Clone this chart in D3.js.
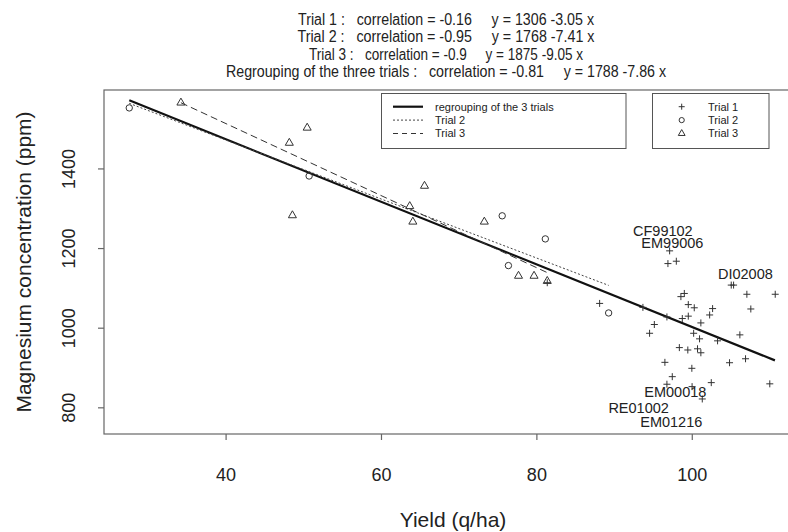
<!DOCTYPE html>
<html>
<head>
<meta charset="utf-8">
<script src="https://cdn.jsdelivr.net/npm/d3@7"></script>
<style>
  body { margin: 0; background: #fff; }
  text { font-family: "Liberation Sans", Arial, sans-serif; }
</style>
</head>
<body>
<div id="chart"></div>
<script>
// Trial 1 (+)
const trial1 = [
    [97.15, 1193], [96.93, 1161], [98.01, 1167], [105.08, 1107], [105.38, 1107],
    [107.09, 1084], [110.74, 1084], [99.04, 1086], [98.6, 1078], [99.55, 1058],
    [100.32, 1050], [102.68, 1048], [107.6, 1047], [102.3, 1032], [99.55, 1029],
    [98.78, 1023], [88.14, 1061], [93.71, 1051], [96.8, 1027], [95.18, 1008],
    [94.57, 986], [101.17, 1012], [100.24, 986], [101.0, 972], [103.32, 967],
    [106.19, 982], [98.4, 950], [99.49, 944], [100.74, 947], [101.17, 937],
    [96.54, 913], [100.01, 898], [104.86, 912], [106.92, 922], [97.49, 877],
    [102.51, 862], [110.04, 859], [101.35, 821], [96.8, 858], [100.04, 852],
    [81.4, 1113]
];
// Trial 2 (o)
const trial2 = [
    [27.6, 1552], [50.75, 1381], [75.6, 1281], [76.4, 1156], [81.15, 1223], [89.3, 1037]
];
// Trial 3 (triangles)
const trial3 = [
    [34.25, 1565], [50.5, 1502], [48.2, 1464], [48.6, 1282], [65.6, 1356],
    [63.7, 1305], [64.1, 1266], [73.3, 1266], [77.7, 1130], [79.7, 1130], [81.4, 1117]
];
// regression lines: intercept, slope, x range
const fits = [
    { name: "regrouping of the 3 trials", a: 1788, b: -7.86, from: 27.6, to: 110.7 },
    { name: "Trial 2", a: 1768, b: -7.41, from: 27.6, to: 89.3 },
    { name: "Trial 3", a: 1875, b: -9.05, from: 34.25, to: 81.4 }
];
// labelled samples
const labels = [
    { text: "CF99102", x: 96.28, y: 1243 },
    { text: "EM99006", x: 97.5, y: 1213 },
    { text: "DI02008", x: 106.9, y: 1134 },
    { text: "EM00018", x: 97.88, y: 839 },
    { text: "RE01002", x: 93.16, y: 799 },
    { text: "EM01216", x: 97.36, y: 764 }
];
const titleLines = [
    "Trial 1 :   correlation = -0.16     y = 1306 -3.05 x",
    "Trial 2 :   correlation = -0.95     y = 1768 -7.41 x",
    "Trial 3 :   correlation = -0.9     y = 1875 -9.05 x",
    "Regrouping of the three trials :   correlation = -0.81     y = 1788 -7.86 x"
];
const titleWidths = [296, 297, 274, 440];
const xTicks = [40, 60, 80, 100];
const yTicks = [800, 1000, 1200, 1400];

const W = 788, H = 532;
const plot = { left: 104, right: 799, top: 90, bottom: 434 };

const svg = d3.select("#chart")
    .append("svg")
    .attr("width", W)
    .attr("height", H);

const x = d3.scaleLinear().domain([24.35, 113.8]).range([plot.left, plot.right]);
const y = d3.scaleLinear().domain([733, 1597]).range([plot.bottom, plot.top]);

// box
svg.append("rect")
    .attr("x", plot.left).attr("y", plot.top)
    .attr("width", plot.right - plot.left).attr("height", plot.bottom - plot.top)
    .attr("fill", "none").attr("stroke", "#666").attr("stroke-width", 1.2);

// axes
const xAxis = svg.append("g")
    .attr("transform", `translate(0,${plot.bottom})`)
    .call(d3.axisBottom(x).tickValues(xTicks).tickSize(6).tickPadding(28));
const yAxis = svg.append("g")
    .attr("transform", `translate(${plot.left},0)`)
    .call(d3.axisLeft(y).tickValues(yTicks).tickSize(6).tickFormat(d3.format("d")));
[xAxis, yAxis].forEach(g => {
    g.select(".domain").remove();
    g.selectAll(".tick line").attr("stroke", "#666").attr("stroke-width", 1.2);
});
xAxis.selectAll("text")
    .style("font-size", "18px").attr("fill", "#222");
yAxis.selectAll("text")
    .style("font-size", "18px").attr("fill", "#222")
    .attr("text-anchor", "middle")
    .attr("dy", 0)
    .attr("transform", "translate(-29,0) rotate(-90)")
    .attr("x", 0).attr("y", 0);

// axis titles
svg.append("text")
    .attr("x", 453).attr("y", 527)
    .attr("text-anchor", "middle")
    .style("font-size", "21px").attr("fill", "#222")
    .text("Yield (q/ha)");
svg.append("text")
    .attr("transform", `translate(31,${(plot.top + plot.bottom) / 2}) rotate(-90)`)
    .attr("text-anchor", "middle")
    .style("font-size", "21px").attr("fill", "#222")
    .text("Magnesium concentration (ppm)");

// title block (squeezed a bit, the original font is narrow)
svg.selectAll(".title")
    .data(titleLines)
    .enter()
    .append("text")
    .attr("class", "title")
    .attr("x", 446)
    .attr("y", (d, i) => 25 + i * 17.4)
    .attr("text-anchor", "middle")
    .attr("textLength", (d, i) => titleWidths[i])
    .attr("lengthAdjust", "spacingAndGlyphs")
    .style("font-size", "16px")
    .style("white-space", "pre")
    .attr("fill", "#222")
    .text(d => d);

// regression lines
const lineStyle = [
    { w: 2.2, dash: null, color: "#111" },
    { w: 1, dash: "2,2", color: "#444" },
    { w: 1, dash: "7,4", color: "#333" }
];
svg.selectAll(".fit")
    .data(fits)
    .enter()
    .append("line")
    .attr("class", "fit")
    .attr("x1", d => x(d.from)).attr("y1", d => y(d.a + d.b * d.from))
    .attr("x2", d => x(d.to)).attr("y2", d => y(d.a + d.b * d.to))
    .attr("stroke", (d, i) => lineStyle[i].color)
    .attr("stroke-width", (d, i) => lineStyle[i].w)
    .attr("stroke-dasharray", (d, i) => lineStyle[i].dash);

// points
const ptColor = "#333";
svg.append("g").selectAll("path")
    .data(trial1)
    .enter()
    .append("path")
    .attr("transform", d => `translate(${x(d[0])},${y(d[1])})`)
    .attr("d", "M-3.5,0H3.5M0,-3.5V3.5")
    .attr("stroke", ptColor).attr("stroke-width", 1);
svg.append("g").selectAll("circle")
    .data(trial2)
    .enter()
    .append("circle")
    .attr("cx", d => x(d[0])).attr("cy", d => y(d[1]))
    .attr("r", 3.2)
    .attr("fill", "none").attr("stroke", ptColor).attr("stroke-width", 1);
const tri = d3.symbol().type(d3.symbolTriangle).size(28);
svg.append("g").selectAll("path")
    .data(trial3)
    .enter()
    .append("path")
    .attr("transform", d => `translate(${x(d[0])},${y(d[1])})`)
    .attr("d", tri)
    .attr("fill", "none").attr("stroke", ptColor).attr("stroke-width", 1);

// sample labels
svg.selectAll(".lab")
    .data(labels)
    .enter()
    .append("text")
    .attr("class", "lab")
    .attr("x", d => x(d.x)).attr("y", d => y(d.y))
    .attr("dy", "0.35em")
    .attr("text-anchor", "middle")
    .style("font-size", "14.5px").attr("fill", "#222")
    .text(d => d.text);

// legend for lines
const leg1 = svg.append("g");
leg1.append("rect")
    .attr("x", 381.5).attr("y", 93.5).attr("width", 244.5).attr("height", 55)
    .attr("fill", "#fff").attr("stroke", "#555");
fits.forEach((f, i) => {
    const ly = 106.7 + i * 13.4;
    leg1.append("line")
        .attr("x1", 393).attr("x2", 423).attr("y1", ly).attr("y2", ly)
        .attr("stroke", lineStyle[i].color)
        .attr("stroke-width", lineStyle[i].w)
        .attr("stroke-dasharray", lineStyle[i].dash === "7,4" ? "5,4" : lineStyle[i].dash);
    leg1.append("text")
        .attr("x", 435).attr("y", ly).attr("dy", "0.35em")
        .style("font-size", "11px").attr("fill", "#222")
        .text(f.name);
});

// legend for symbols
const leg2 = svg.append("g");
leg2.append("rect")
    .attr("x", 652.5).attr("y", 93.5).attr("width", 116.5).attr("height", 55)
    .attr("fill", "#fff").attr("stroke", "#555");
["Trial 1", "Trial 2", "Trial 3"].forEach((name, i) => {
    const ly = 106.7 + i * 13.4;
    const g = leg2.append("g").attr("transform", `translate(681.7,${ly})`);
    if (i === 0) g.append("path").attr("d", "M-3,0H3M0,-3V3");
    else if (i === 1) g.append("circle").attr("r", 2.6);
    else g.append("path").attr("d", d3.symbol().type(d3.symbolTriangle).size(20));
    g.selectAll("*").attr("fill", "none").attr("stroke", ptColor).attr("stroke-width", 1);
    leg2.append("text")
        .attr("x", 708).attr("y", ly).attr("dy", "0.35em")
        .style("font-size", "11px").attr("fill", "#222")
        .text(name);
});
</script>
</body>
</html>
